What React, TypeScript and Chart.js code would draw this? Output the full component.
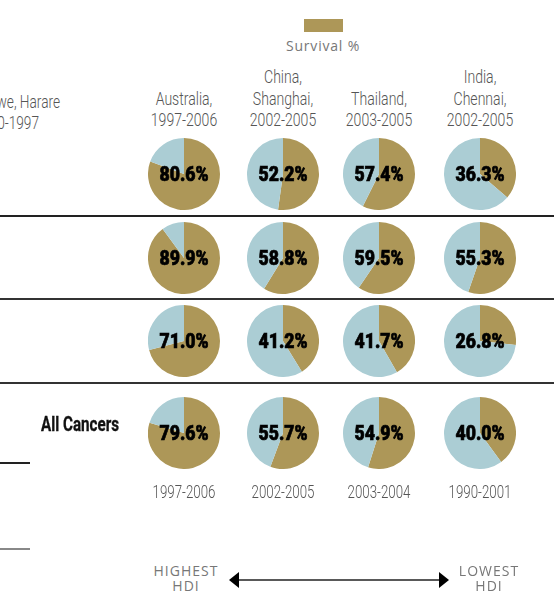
import React, { useEffect, useRef } from "react";
import { Chart, registerables } from "chart.js";

Chart.register(...registerables);

const GOLD = "#AD9758";
const BLUE = "#ABCDD4";

// Survival % values, rows top to bottom, columns left to right
const row1 = [80.6, 52.2, 57.4, 36.3];
const row2 = [89.9, 58.8, 59.5, 55.3];
const row3 = [71.0, 41.2, 41.7, 26.8];
const row4 = [79.6, 55.7, 54.9, 40.0];
const rows = [row1, row2, row3, row4];

const headerLines = [
  ["Australia,", "1997-2006"],
  ["China,", "Shanghai,", "2002-2005"],
  ["Thailand,", "2003-2005"],
  ["India,", "Chennai,", "2002-2005"],
];
const bottomYears = ["1997-2006", "2002-2005", "2003-2004", "1990-2001"];

const colX = [183.5, 282.5, 378.5, 480];
const rowY = [174, 258, 341, 433];
const R = 36;

function PieCell({ value, cx, cy }: { value: number; cx: number; cy: number }) {
  const ref = useRef<HTMLCanvasElement>(null);
  useEffect(() => {
    if (!ref.current) return;
    const chart = new Chart(ref.current, {
      type: "pie",
      data: {
        labels: ["Survival %", "Other"],
        datasets: [
          {
            data: [value, 100 - value],
            backgroundColor: [GOLD, BLUE],
            borderWidth: 0,
          },
        ],
      },
      options: {
        responsive: false,
        animation: false,
        layout: { padding: 0 },
        plugins: { legend: { display: false }, tooltip: { enabled: false } },
      },
    });
    return () => chart.destroy();
  }, [value]);
  return (
    <>
      <canvas
        ref={ref}
        width={R * 2}
        height={R * 2}
        style={{ position: "absolute", left: cx - R, top: cy - R, width: R * 2, height: R * 2 }}
      />
      <Txt x={cx} y={cy} size={21} weight={900} color="#000" sx={0.84} stroke="0.7px #000" family="Roboto, 'DejaVu Sans', sans-serif">
        {value.toFixed(1) + "%"}
      </Txt>
    </>
  );
}

function Txt({
  x,
  y,
  size,
  weight = 300,
  color = "#555",
  sx = 0.76,
  family = "Roboto, 'DejaVu Sans', sans-serif",
  spacing = 0,
  stroke,
  children,
}: any) {
  const st: any = {
    position: "absolute",
    left: x,
    top: y,
    transform: `translate(-50%,-50%) scaleX(${sx})`,
    fontFamily: family,
    fontSize: size,
    fontWeight: weight,
    color,
    whiteSpace: "nowrap",
    lineHeight: 1,
    letterSpacing: spacing,
  };
  if (stroke) st.WebkitTextStroke = stroke;
  return <div style={st}>{children}</div>;
}

function RTxt({ right, y, size, color = "#555", children }: any) {
  return (
    <div
      style={{
        position: "absolute",
        right: 554 - right,
        top: y,
        transformOrigin: "100% 50%",
        transform: "translateY(-50%) scaleX(0.76)",
        fontFamily: "Roboto, 'DejaVu Sans', sans-serif",
        fontSize: size,
        fontWeight: 300,
        color,
        whiteSpace: "nowrap",
        lineHeight: 1,
      }}
    >
      {children}
    </div>
  );
}

function HLine({ y, x0, x1, color = "#222", h = 2 }: any) {
  return (
    <div style={{ position: "absolute", left: x0, top: y - h / 2, width: x1 - x0, height: h, background: color }} />
  );
}

const smallFont = "'Open Sans', 'DejaVu Sans', sans-serif";

export default function App() {
  return (
    <div
      style={{
        position: "absolute",
        left: 0,
        top: 0,
        width: 554,
        height: 593,
        overflow: "hidden",
        background: "#fff",
      }}
    >
      {/* legend */}
      <div style={{ position: "absolute", left: 304, top: 19, width: 39, height: 13, background: GOLD }} />
      <Txt x={323} y={46} size={14} weight={400} color="#777" sx={1} spacing={0.8} family={smallFont}>
        Survival %
      </Txt>

      {/* left cut-off header */}
      <RTxt right={60} y={102} size={18}>Zimbabwe, Harare</RTxt>
      <RTxt right={39} y={123} size={18}>1990-1997</RTxt>

      {/* column headers */}
      {headerLines.map((lines, c) =>
        lines.map((t, i) => (
          <Txt key={c + "-" + i} x={colX[c]} y={120 - (lines.length - 1 - i) * 21.5} size={18.5}>
            {t}
          </Txt>
        ))
      )}

      {/* separators */}
      <HLine y={216} x0={0} x1={554} />
      <HLine y={298.5} x0={0} x1={554} color="#333" />
      <HLine y={383} x0={0} x1={554} color="#333" />
      <HLine y={463} x0={0} x1={30} color="#222" h={1.5} />
      <HLine y={549} x0={0} x1={30} color="#888" h={1.5} />

      {/* pies */}
      {rows.map((r, ri) =>
        r.map((v, ci) => <PieCell key={ri + "-" + ci} value={v} cx={colX[ci]} cy={rowY[ri]} />)
      )}

      <Txt x={80} y={424} size={20} weight={700} color="#111" sx={0.76} stroke="0.3px #111">
        All Cancers
      </Txt>

      {bottomYears.map((t, i) => (
        <Txt key={"b" + i} x={colX[i]} y={493} size={17.5}>
          {t}
        </Txt>
      ))}

      {/* HDI arrow */}
      <Txt x={186} y={571} size={14} weight={400} color="#777" sx={1} spacing={1} family={smallFont}>HIGHEST</Txt>
      <Txt x={186} y={586} size={14} weight={400} color="#777" sx={1} spacing={1} family={smallFont}>HDI</Txt>
      <Txt x={489} y={571} size={14} weight={400} color="#777" sx={1} spacing={1} family={smallFont}>LOWEST</Txt>
      <Txt x={489} y={586} size={14} weight={400} color="#777" sx={1} spacing={1} family={smallFont}>HDI</Txt>
      <svg style={{ position: "absolute", left: 0, top: 0 }} width={554} height={593}>
        <line x1={238} y1={580} x2={440} y2={580} stroke="#222" strokeWidth={1.5} />
        <polygon points="229,580 239,572 239,588" fill="#000" />
        <polygon points="449,580 439,572 439,588" fill="#000" />
      </svg>
    </div>
  );
}
